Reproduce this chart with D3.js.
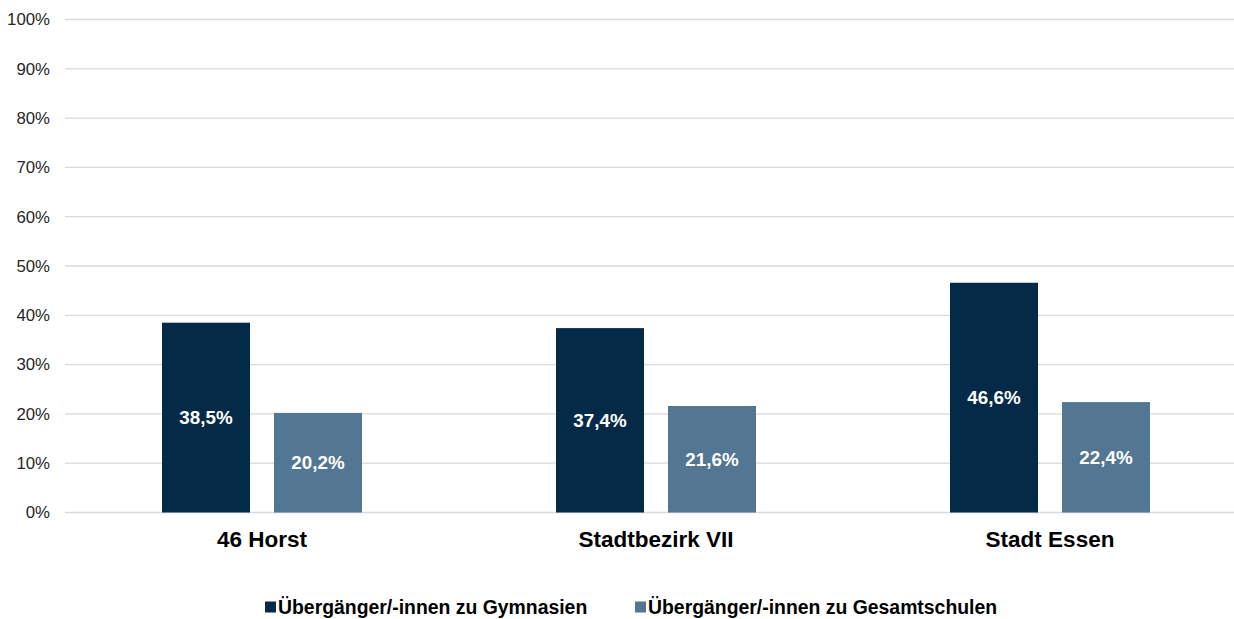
<html>
<head>
<meta charset="UTF-8" />
<script src="https://d3js.org/d3.v7.min.js"></script>
<style>
  body { margin: 0; background: #fff; }
  text { font-family: "Liberation Sans", Arial, sans-serif; }
</style>
</head>
<body>
<div id="chart"></div>
<script>
// data
var categories = ["46 Horst", "Stadtbezirk VII", "Stadt Essen"];
var seriesNames = ["Übergänger/-innen zu Gymnasien", "Übergänger/-innen zu Gesamtschulen"];
var gymnasien = [38.5, 37.4, 46.6];
var gesamtschulen = [20.2, 21.6, 22.4];
var yTicks = [0, 10, 20, 30, 40, 50, 60, 70, 80, 90, 100];
var colors = ["#052a47", "#537693"];

var W = 1234, H = 619;
var de = d3.formatLocale({decimal: ",", thousands: ".", grouping: [3], currency: ["", " €"]});
var fmt = de.format(".1f");

var svg = d3.select("#chart").append("svg")
  .attr("width", W).attr("height", H);

var x0 = d3.scaleBand().domain(categories).range([65, 1247])
  .paddingInner(0.4924).paddingOuter(0.2462);
var x1 = d3.scaleBand().domain(seriesNames).range([0, x0.bandwidth()])
  .paddingInner(0.214).paddingOuter(0);
var y = d3.scaleLinear().domain([0, 100]).range([512.5, 19.5]);

// gridlines
svg.append("g").selectAll("line").data(yTicks).enter().append("line")
  .attr("x1", 65).attr("x2", W)
  .attr("y1", d => y(d)).attr("y2", d => y(d))
  .attr("stroke", "#d9d9d9").attr("stroke-width", 1.3);

// y axis labels
var yAxis = svg.append("g").attr("transform", "translate(50,0)")
  .call(d3.axisLeft(y).tickValues(yTicks).tickSize(0).tickPadding(0).tickFormat(d => d + "%"));
yAxis.select(".domain").remove();
yAxis.selectAll("text").attr("font-size", 16.8).attr("fill", "#262626")
  .style("font-family", "'Liberation Sans', Arial, sans-serif");

// bars
var rows = categories.map((c, i) => ({cat: c, vals: [gymnasien[i], gesamtschulen[i]]}));
var grp = svg.append("g").selectAll("g").data(rows).enter().append("g")
  .attr("transform", d => "translate(" + x0(d.cat) + ",0)");

var bars = grp.selectAll("g").data(d => d.vals.map((v, j) => ({s: seriesNames[j], v: v, j: j})))
  .enter().append("g");
bars.append("rect")
  .attr("x", d => x1(d.s)).attr("width", x1.bandwidth())
  .attr("y", d => y(d.v)).attr("height", d => y(0) - y(d.v))
  .attr("fill", d => colors[d.j]);
bars.append("text")
  .attr("x", d => x1(d.s) + x1.bandwidth() / 2)
  .attr("y", d => (y(d.v) + y(0)) / 2)
  .attr("dy", "0.35em")
  .attr("text-anchor", "middle")
  .attr("font-size", 18.8).attr("font-weight", "bold").attr("fill", "#fff")
  .text(d => fmt(d.v) + "%");

// x axis labels
var xAxis = svg.append("g").attr("transform", "translate(0,512)")
  .call(d3.axisBottom(x0).tickSize(0).tickPadding(19));
xAxis.select(".domain").remove();
xAxis.selectAll("text").attr("font-size", 22.5).attr("font-weight", "bold").attr("fill", "#000")
  .style("font-family", "'Liberation Sans', Arial, sans-serif");

// legend
var legend = svg.append("g");
var lx = [265, 635];
seriesNames.forEach((s, i) => {
  var g = legend.append("g").attr("transform", "translate(" + lx[i] + ",607)");
  g.append("rect").attr("x", 0).attr("y", -5.5).attr("width", 11).attr("height", 11).attr("fill", colors[i]);
  g.append("text").attr("x", 13).attr("dy", "0.35em")
    .attr("font-size", 19.4).attr("font-weight", "bold").attr("fill", "#000").text(s);
});
</script>
</body>
</html>
